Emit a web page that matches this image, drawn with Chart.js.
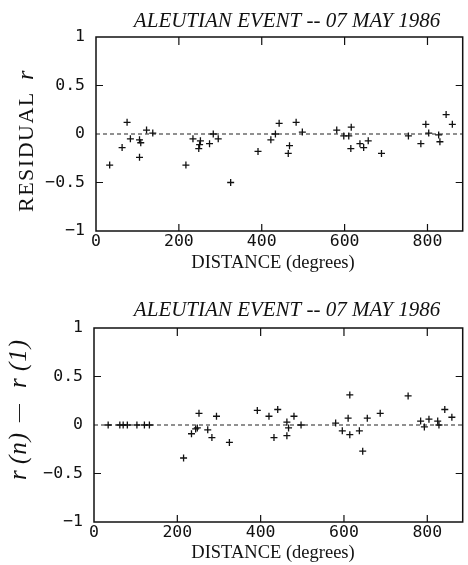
<!DOCTYPE html>
<html>
<head>
<meta charset="utf-8">
<script src="https://cdn.jsdelivr.net/npm/chart.js@4.4.1/dist/chart.umd.min.js"></script>
<style>
	html, body { margin: 0; padding: 0; background: #fff; }
	#wrap { position: relative; width: 468px; height: 565px; }
	canvas { position: absolute; left: 0; }
</style>
</head>
<body>
<div id="wrap">
	<canvas id="residualChart" width="468" height="282" style="top:0"></canvas>
	<canvas id="diffChart" width="468" height="283" style="top:282px"></canvas>
</div>
<script>
// Aleutian event, 07 May 1986
const titleText = "ALEUTIAN EVENT -- 07 MAY 1986";
const xTicks = [0, 200, 400, 600, 800];
const yTicks = [-1, -0.5, 0, 0.5, 1];
const xMax = 885;

// top panel: residual r vs distance
const residualDist = [33, 63, 75, 83, 105, 108, 105, 122, 137, 217, 234, 252, 250, 248, 274, 283, 295, 325, 391, 422,
	433, 442, 467, 464, 483, 498, 581, 598, 610, 616, 615, 637, 646, 657, 689, 754, 784, 796, 803, 827, 830, 845, 860];
const residualVal = [-0.32, -0.14, 0.12, -0.05, -0.06, -0.09, -0.24, 0.04, 0.01, -0.32, -0.05, -0.07, -0.11, -0.15, -0.10, 0.0, -0.05, -0.50, -0.18, -0.06,
	0.0, 0.11, -0.12, -0.20, 0.12, 0.02, 0.04, -0.02, -0.02, 0.07, -0.15, -0.10, -0.14, -0.07, -0.20, -0.02, -0.10, 0.10, 0.01, -0.01, -0.08, 0.20, 0.10];

// bottom panel: r(n) - r(1) vs distance
const diffDist = [34, 62, 70, 80, 103, 121, 133, 215, 234, 244, 248, 252, 273, 283, 294, 325, 392, 420, 432,
	441, 463, 467, 463, 480, 497, 580, 596, 614, 610, 614, 637, 645, 656, 687, 754, 784, 793, 804, 825, 828, 842, 859];
const diffVal = [0, 0, 0, 0, 0, 0, 0, -0.34, -0.09, -0.04, -0.03, 0.12, -0.05, -0.13, 0.09, -0.18, 0.15, 0.09, -0.13,
	0.16, 0.03, -0.03, -0.11, 0.09, 0.0, 0.02, -0.06, -0.10, 0.07, 0.31, -0.06, -0.27, 0.07, 0.12, 0.30, 0.04, -0.02, 0.06, 0.04, 0.0, 0.16, 0.08];

const tickFont = { family: "DejaVu Sans Mono", size: 16.5 };

function fmtY(v) {
	if (v === 0) return "0";
	return String(v).replace("-", "\u2212");
}

// frame, inward tick marks and text labels
const framePlugin = {
	id: "frame",
	afterDraw(chart, args, opts) {
		const ctx = chart.ctx;
		const a = chart.chartArea;
		const xs = chart.scales.x;
		const ys = chart.scales.y;
		ctx.save();
		ctx.strokeStyle = "#111";
		ctx.lineWidth = 1.5;
		ctx.strokeRect(a.left, a.top, a.right - a.left, a.bottom - a.top);
		ctx.lineWidth = 1.2;
		ctx.beginPath();
		xTicks.forEach(function (t) {
			if (t === 0) return;
			const px = xs.getPixelForValue(t);
			ctx.moveTo(px, a.bottom); ctx.lineTo(px, a.bottom - 7);
			ctx.moveTo(px, a.top); ctx.lineTo(px, a.top + 8);
		});
		[-0.5, 0.5].forEach(function (t) {
			const py = ys.getPixelForValue(t);
			ctx.moveTo(a.left, py); ctx.lineTo(a.left + 7, py);
			ctx.moveTo(a.right, py); ctx.lineTo(a.right - 7, py);
		});
		ctx.stroke();

		ctx.fillStyle = "#111";
		ctx.textAlign = "center";
		ctx.textBaseline = "middle";
		ctx.font = "italic 21px 'Liberation Serif'";
		ctx.fillText(titleText, 287, opts.titleY);
		ctx.font = "18.5px 'Liberation Serif'";
		ctx.fillText("DISTANCE (degrees)", 273, opts.xTitleY);

		ctx.translate(opts.yTitleX, opts.yTitleY);
		ctx.rotate(-Math.PI / 2);
		ctx.textAlign = "left";
		opts.yTitle.forEach(function (part) {
			ctx.font = part.font;
			ctx.letterSpacing = part.spacing || "0px";
			ctx.fillText(part.text, part.dx, 0);
		});
		ctx.restore();
	},
};

function makeChart(id, dist, vals, cfg) {
	const points = dist.map((d, i) => ({ x: d, y: vals[i] }));
	return new Chart(document.getElementById(id).getContext("2d"), {
		type: "scatter",
		data: {
			datasets: [
				{
					data: points,
					pointStyle: "cross",
					pointRadius: 3.5,
					borderColor: "#111",
					borderWidth: 1.3,
					backgroundColor: "#111",
				},
				{
					type: "line",
					data: [{ x: 0, y: 0 }, { x: xMax, y: 0 }],
					borderColor: "#222",
					borderWidth: 1.2,
					borderDash: [4, 3],
					pointRadius: 0,
				},
			],
		},
		options: {
			responsive: false,
			animation: false,
			devicePixelRatio: 1,
			layout: { padding: { top: cfg.top, right: 1, left: 0, bottom: 0 } },
			plugins: {
				legend: { display: false },
				tooltip: { enabled: false },
				frame: cfg.frame,
			},
			scales: {
				x: {
					type: "linear",
					min: 0,
					max: xMax,
					afterFit: function (s) { s.height = cfg.xHeight; },
					afterBuildTicks: function (s) { s.ticks = xTicks.map((v) => ({ value: v })); },
					grid: { display: false, drawTicks: false },
					border: { display: false },
					ticks: { font: tickFont, color: "#111", padding: 1, maxRotation: 0, includeBounds: false },
				},
				y: {
					min: -1,
					max: 1,
					afterFit: function (s) { s.width = cfg.yWidth; },
					afterBuildTicks: function (s) { s.ticks = yTicks.map((v) => ({ value: v })); },
					grid: { display: false, drawTicks: false },
					border: { display: false },
					ticks: { font: tickFont, color: "#111", padding: 11, callback: fmtY },
				},
			},
		},
		plugins: [framePlugin],
	});
}

makeChart("residualChart", residualDist, residualVal, {
	top: 37,
	xHeight: 51,
	yWidth: 96,
	frame: {
		titleY: 21,
		xTitleY: 263,
		yTitleX: 27,
		yTitleY: 212,
		yTitle: [
			{ text: "RESIDUAL", font: "22px 'Liberation Serif'", spacing: "1.5px", dx: 0 },
			{ text: "r", font: "italic 24px 'Liberation Serif'", dx: 132 },
		],
	},
});

makeChart("diffChart", diffDist, diffVal, {
	top: 46,
	xHeight: 43,
	yWidth: 94,
	frame: {
		titleY: 28,
		xTitleY: 271,
		yTitleX: 19,
		yTitleY: 198,
		yTitle: [
			{ text: "r", font: "italic 25px 'Liberation Serif'", dx: 0 },
			{ text: "(n)", font: "italic 25px 'Liberation Serif'", spacing: "1px", dx: 16 },
			{ text: "\u2014", font: "18px 'Liberation Serif'", dx: 58 },
			{ text: "r", font: "italic 25px 'Liberation Serif'", dx: 92 },
			{ text: "(1)", font: "italic 25px 'Liberation Serif'", spacing: "1px", dx: 109 },
		],
	},
});
</script>
</body>
</html>
